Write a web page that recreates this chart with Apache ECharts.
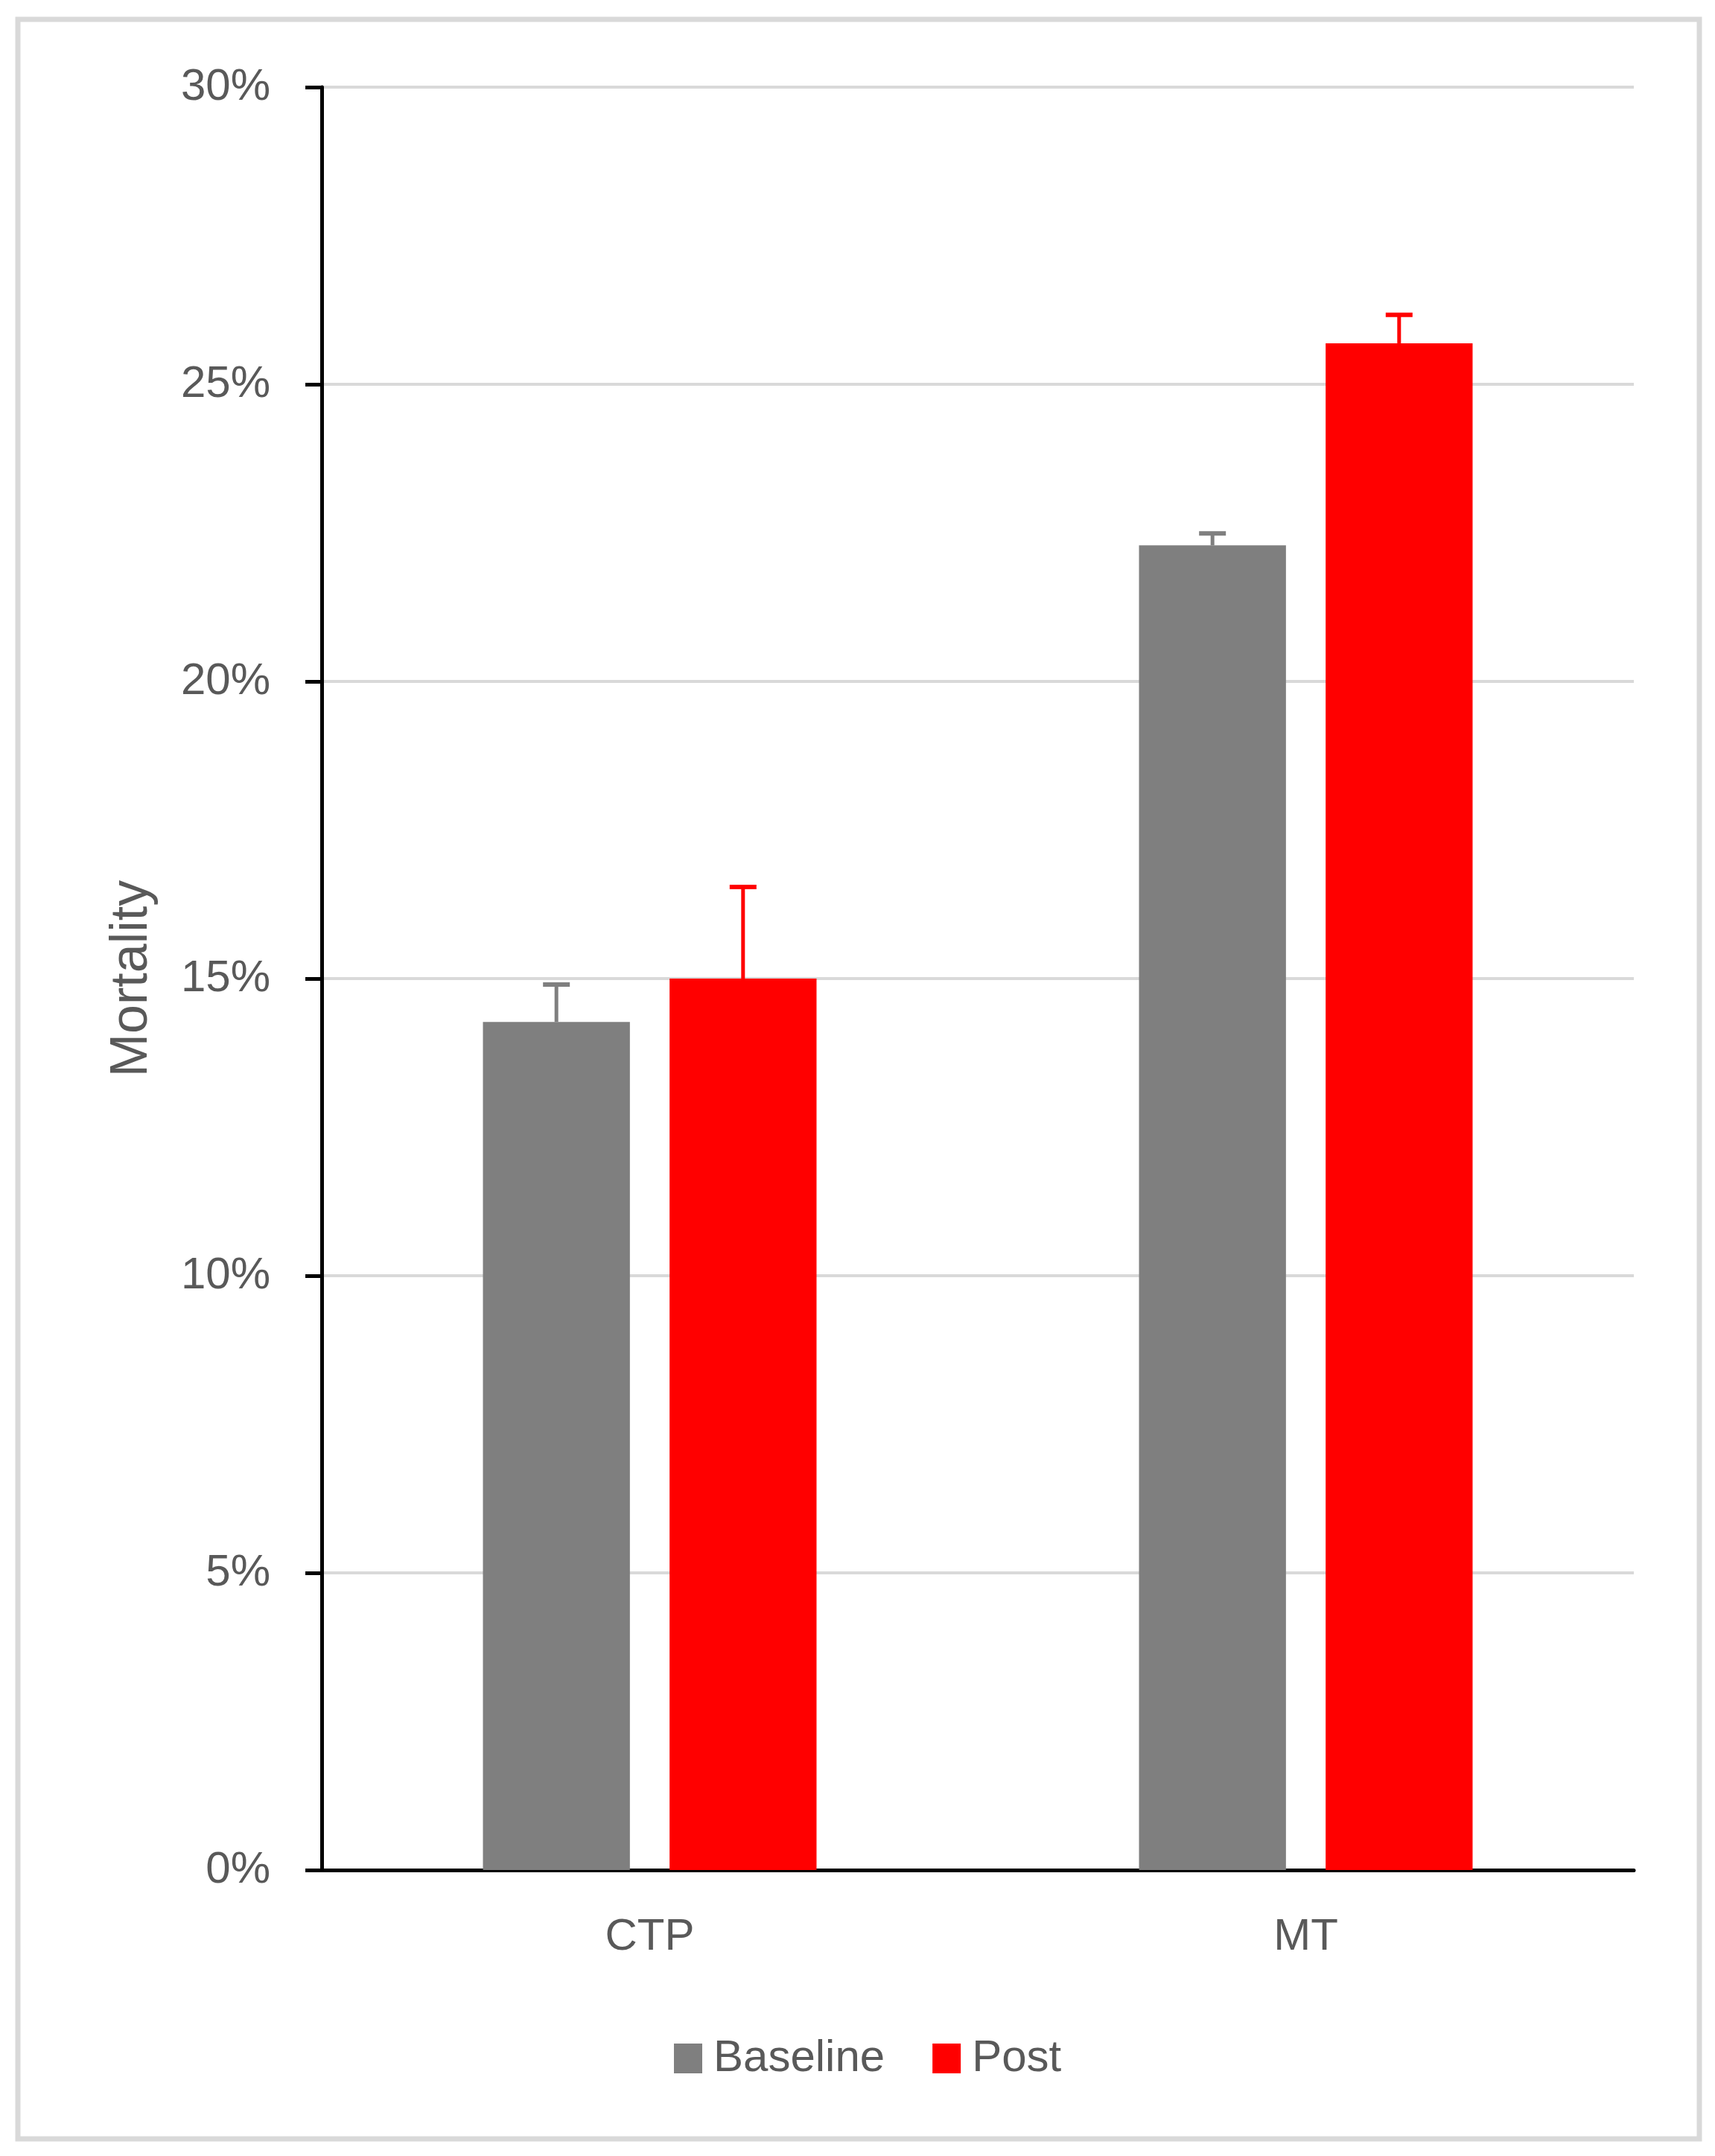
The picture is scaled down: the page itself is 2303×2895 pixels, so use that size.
<!DOCTYPE html>
<html>
<head>
<meta charset="utf-8">
<title>Mortality</title>
<script src="https://cdn.jsdelivr.net/npm/echarts@6/dist/echarts.min.js"></script>
<style>
  html, body { margin: 0; padding: 0; background: #ffffff; }
  #chart { width: 2303px; height: 2895px; }
</style>
</head>
<body>
<div id="chart"></div>
<script>
const categories = ["CTP", "MT"];
const seriesNames = ["Baseline", "Post"];
const baselineValues = [14.27, 22.29];
const postValues = [15.0, 25.69];
const baselineErrors = [0.63, 0.20];
const postErrors = [1.54, 0.48];
const yTicks = { min: 0, max: 30, interval: 5 };

const GRAY = "#7f7f7f";
const RED = "#ff0000";
const TEXT = "#595959";
const FONT = "'Liberation Sans', Arial, sans-serif";

// bar layout as a share of the category band
const BAR_WIDTH_FRAC = 0.224;
const BAR_GAP_FRAC = 0.27;
const BAR_OFFSET_FRAC = (BAR_WIDTH_FRAC + BAR_WIDTH_FRAC * BAR_GAP_FRAC) / 2;
const CAP_WIDTH = 36;

const chart = echarts.init(document.getElementById("chart"));

function errorBarRenderer(sign, color) {
  return (params, api) => {
    const cat = api.value(0);
    const value = api.value(1);
    const low = api.coord([cat, value]);
    const high = api.coord([cat, value + api.value(2)]);
    const band = api.size([1, 0])[0];
    const x = low[0] + sign * band * BAR_OFFSET_FRAC;
    return {
      type: "group",
      children: [
        { type: "line", shape: { x1: x, y1: low[1], x2: x, y2: high[1] }, style: { stroke: color, lineWidth: 5 } },
        { type: "line", shape: { x1: x - CAP_WIDTH / 2, y1: high[1], x2: x + CAP_WIDTH / 2, y2: high[1] }, style: { stroke: color, lineWidth: 6 } },
      ],
    };
  };
}

function errorData(values, errors) {
  return values.map((v, i) => [i, v, errors[i]]);
}

chart.setOption({
  animation: false,
  backgroundColor: "#ffffff",
  textStyle: { fontFamily: FONT },
  graphic: [{
    type: "rect",
    shape: { x: 24, y: 26, width: 2258, height: 2846 },
    style: { fill: null, stroke: "#d9d9d9", lineWidth: 7 },
    silent: true,
  }],
  grid: { left: 432, right: 109, top: 117, bottom: 384, containLabel: false },
  legend: {
    data: seriesNames,
    left: 900,
    top: 2729,
    icon: "rect",
    itemWidth: 38,
    itemHeight: 40,
    itemGap: 64,
    textStyle: { fontSize: 60, color: TEXT, fontFamily: FONT, padding: [0, 0, 0, 10] },
  },
  xAxis: {
    type: "category",
    data: categories,
    axisLine: { lineStyle: { color: "#000000", width: 5 } },
    axisTick: { show: false },
    axisLabel: { fontSize: 60, color: TEXT, margin: 60, fontFamily: FONT },
  },
  yAxis: {
    type: "value",
    min: yTicks.min,
    max: yTicks.max,
    interval: yTicks.interval,
    name: "Mortality",
    nameLocation: "middle",
    nameGap: 219,
    nameTextStyle: { fontSize: 70, color: TEXT, fontFamily: FONT },
    axisLine: { show: true, lineStyle: { color: "#000000", width: 5 } },
    axisTick: { show: true, length: 22, lineStyle: { color: "#000000", width: 5 } },
    axisLabel: { fontSize: 60, color: TEXT, margin: 69, fontFamily: FONT, formatter: v => `${v}%` },
    splitLine: { lineStyle: { color: "#d9d9d9", width: 4 } },
  },
  series: [
    {
      name: "Baseline",
      type: "bar",
      data: baselineValues,
      barWidth: `${BAR_WIDTH_FRAC * 100}%`,
      barGap: `${BAR_GAP_FRAC * 100}%`,
      itemStyle: { color: GRAY },
    },
    {
      name: "Post",
      type: "bar",
      data: postValues,
      barWidth: `${BAR_WIDTH_FRAC * 100}%`,
      barGap: `${BAR_GAP_FRAC * 100}%`,
      itemStyle: { color: RED },
    },
    {
      type: "custom",
      renderItem: errorBarRenderer(-1, GRAY),
      data: errorData(baselineValues, baselineErrors),
      encode: { x: 0, y: 1 },
      z: 5,
    },
    {
      type: "custom",
      renderItem: errorBarRenderer(1, RED),
      data: errorData(postValues, postErrors),
      encode: { x: 0, y: 1 },
      z: 5,
    },
  ],
});
</script>
</body>
</html>
